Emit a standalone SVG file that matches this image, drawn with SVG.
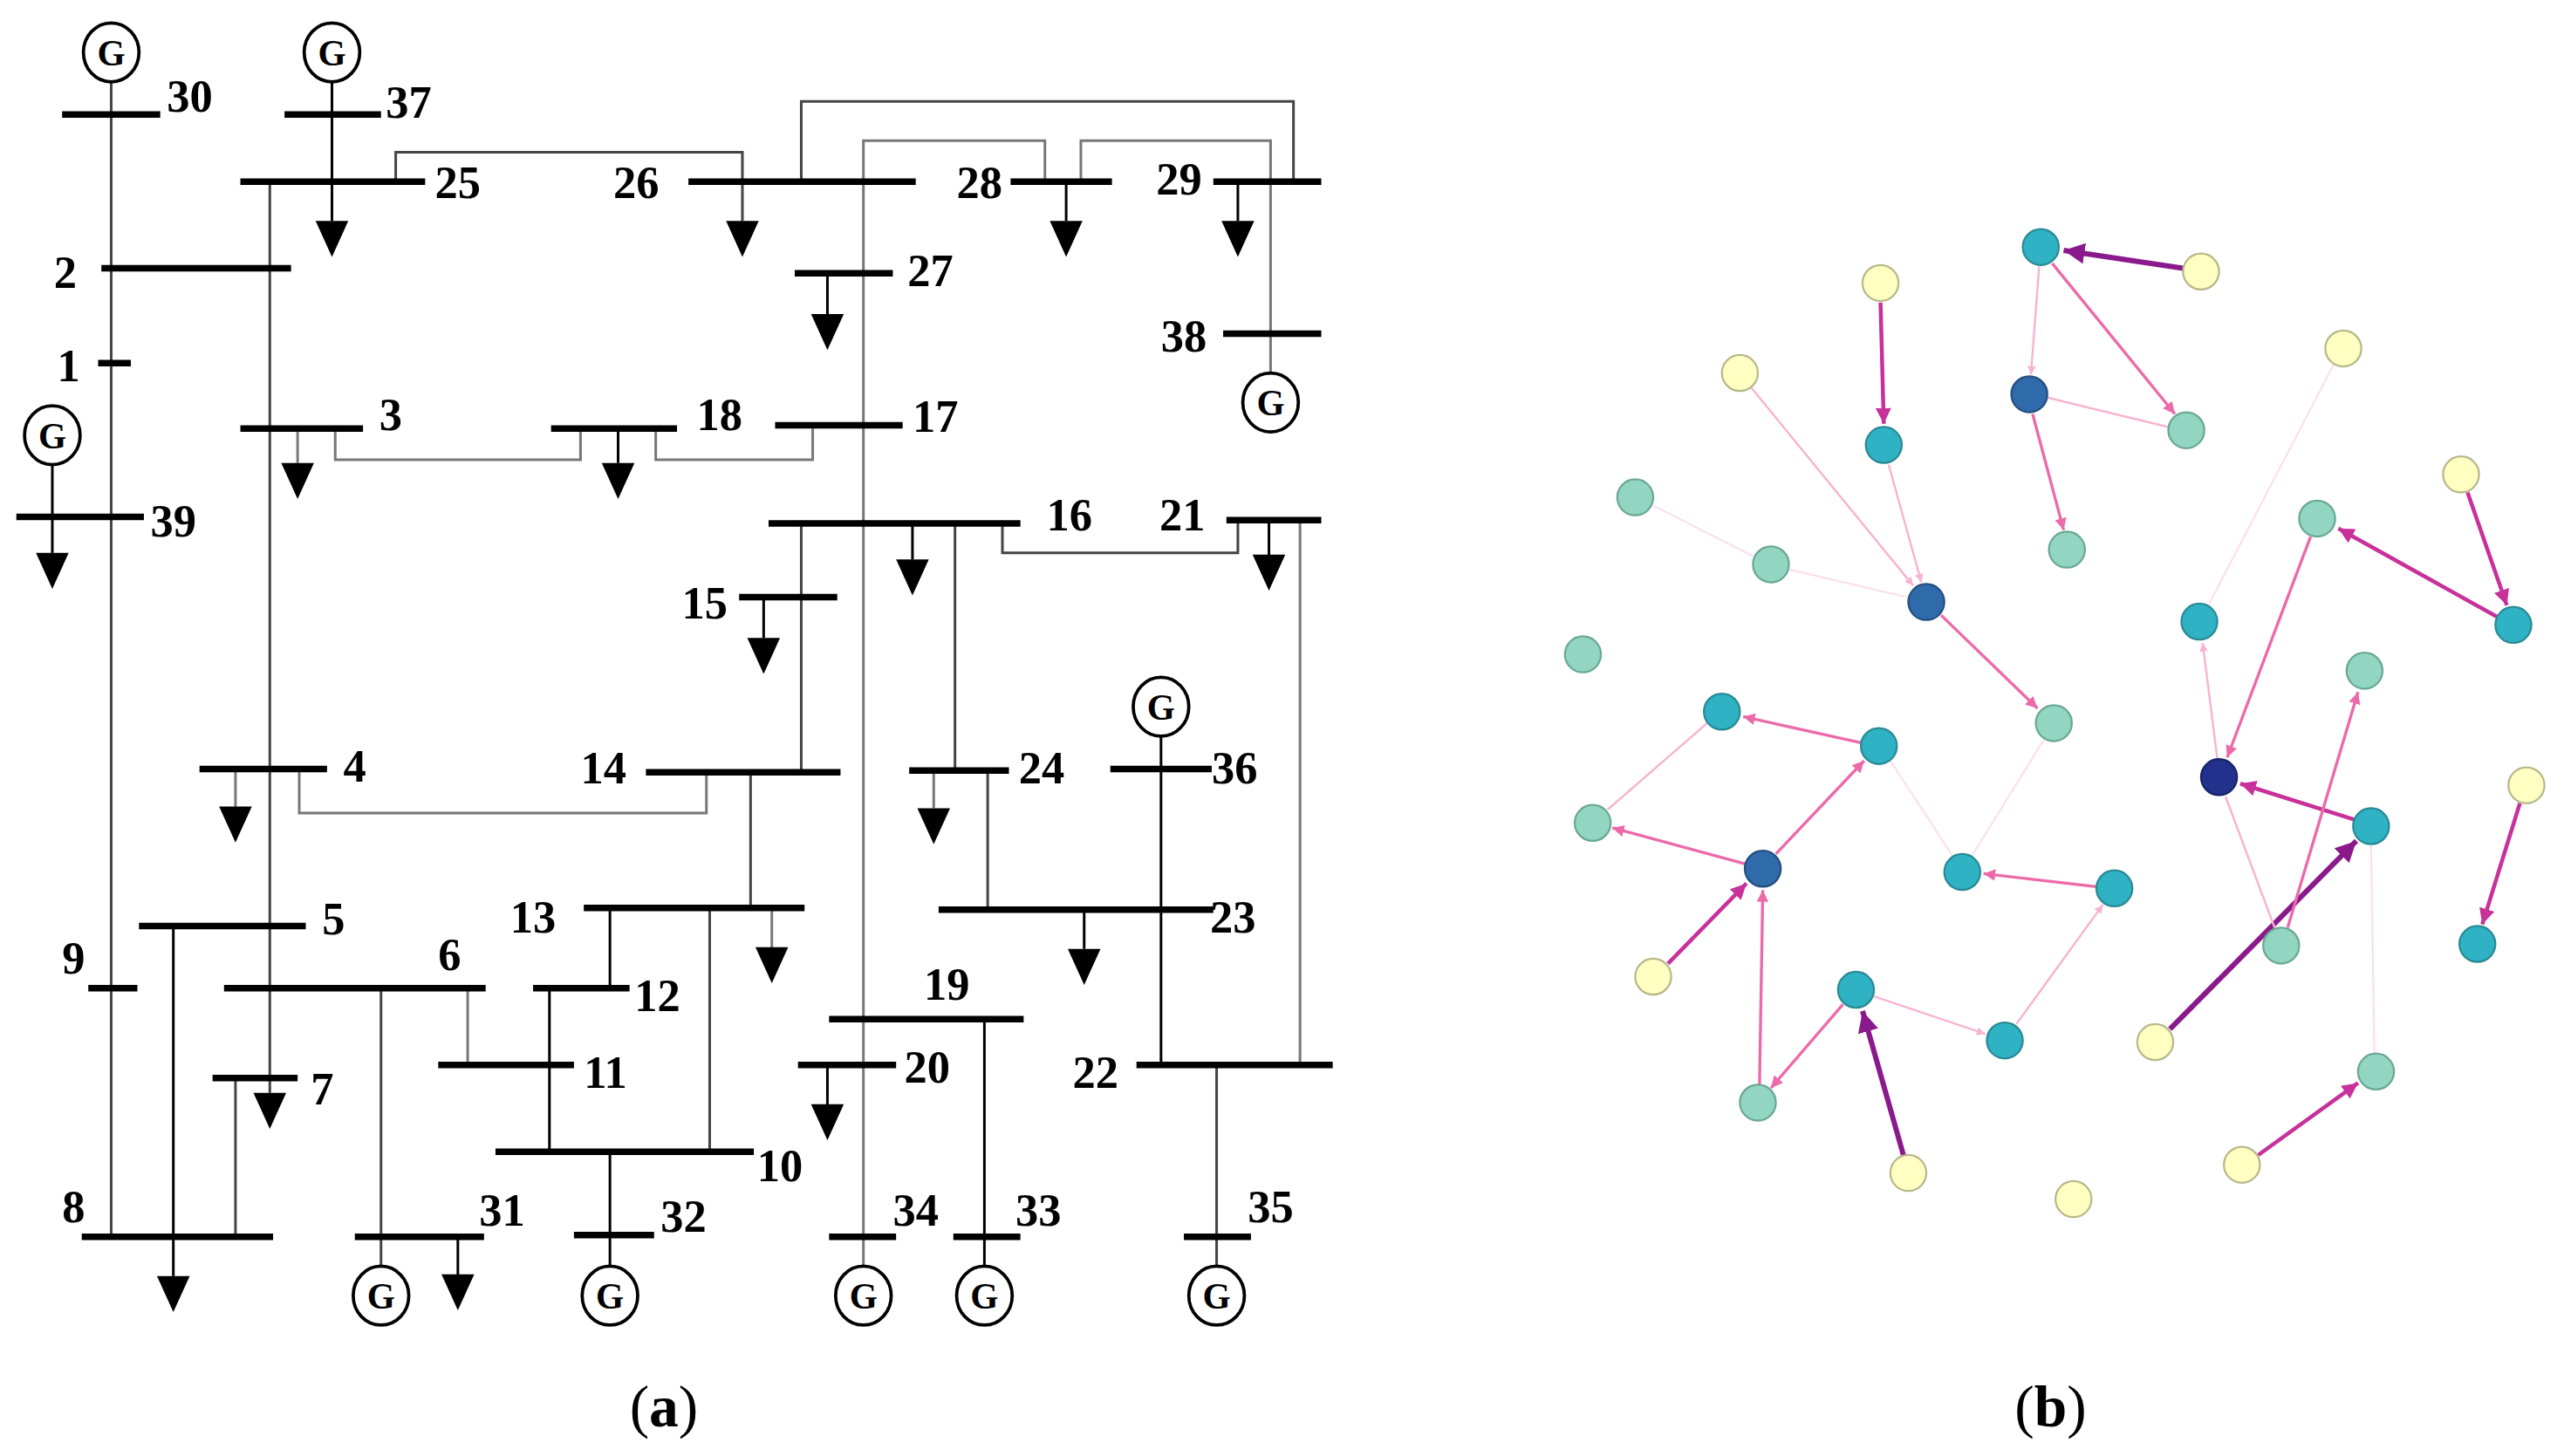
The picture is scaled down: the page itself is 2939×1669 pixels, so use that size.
<svg xmlns="http://www.w3.org/2000/svg" xmlns:xlink="http://www.w3.org/1999/xlink" width="2939" height="1669" viewBox="0 0 2939 1669">
<style>
.bus{stroke:#000;stroke-width:4;fill:none}
.ln{stroke:#444;stroke-width:1.6;fill:none}
.lg{stroke:#777;stroke-width:1.6;fill:none}
.ld{stroke:#000;stroke-width:1.6;fill:none}
.lbl{font-family:"Liberation Serif",serif;font-weight:bold;font-size:28px;fill:#000}
.cap{font-family:"Liberation Serif",serif;font-size:36px;fill:#000}
.gc{fill:#fff;stroke:#000;stroke-width:2}
.gt{font-family:"Liberation Serif",serif;font-weight:bold;font-size:22px;fill:#000;text-anchor:middle}
.ny{fill:#ffffc2;stroke:#b8b88a;stroke-width:1.2}
.nt{fill:#2fb2c4;stroke:#2a8a96;stroke-width:1.2}
.nm{fill:#92d6c2;stroke:#6aa894;stroke-width:1.2}
.nd{fill:#2f6aab;stroke:#244f80;stroke-width:1.2}
.nn{fill:#22318c;stroke:#18236a;stroke-width:1.2}
.e1{stroke:#8a1a8c;stroke-width:3.2;fill:none}
.e2{stroke:#c8309a;stroke-width:2.4;fill:none}
.e3{stroke:#ec6aaa;stroke-width:1.8;fill:none}
.e4{stroke:#f7b4d2;stroke-width:1.3;fill:none}
.e5{stroke:#fbe0ec;stroke-width:1.2;fill:none}
</style>
<defs>
<path id="tri" d="M-10,0 L10,0 L0,22 Z" fill="#000"/>
<g id="gen"><ellipse rx="17" ry="18" class="gc"/><text y="8" class="gt">G</text></g>
<marker id="m1" viewBox="0 0 10 10" refX="10" refY="5" markerWidth="4" markerHeight="4" orient="auto"><path d="M0,0 L10,5 L0,10 Z" fill="#8a1a8c"/></marker>
<marker id="m2" viewBox="0 0 10 10" refX="10" refY="5" markerWidth="4" markerHeight="4" orient="auto"><path d="M0,0 L10,5 L0,10 Z" fill="#c8309a"/></marker>
<marker id="m3" viewBox="0 0 10 10" refX="10" refY="5" markerWidth="4" markerHeight="4" orient="auto"><path d="M0,0 L10,5 L0,10 Z" fill="#ec6aaa"/></marker>
<marker id="m4" viewBox="0 0 10 10" refX="10" refY="5" markerWidth="4" markerHeight="4" orient="auto"><path d="M0,0 L10,5 L0,10 Z" fill="#f7b4d2"/></marker>
</defs>
<rect width="2939" height="1669" fill="#fff"/>
<g transform="scale(1.8744,1.8753)">
<g id="connectors-a">
<path class="ln" d="M68,50 V756"/>
<path class="ln" d="M165,111 V668"/>
<path class="ld" d="M203,50 V135"/>
<path class="ln" d="M242,111 V93 H454 V135"/>
<path class="ln" d="M490,111 V62 H791 V111"/>
<path class="lg" d="M528,774 V86 H639 V111"/>
<path class="lg" d="M661,111 V86 H777 V228"/>
<path class="ld" d="M652,111 V135"/>
<path class="ld" d="M757,111 V135"/>
<path class="ld" d="M506,167 V193"/>
<path class="ld" d="M32,284 V338"/>
<path class="lg" d="M182,262 V283"/>
<path class="lg" d="M205,262 V281 H355 V262"/>
<path class="ld" d="M378,262 V283"/>
<path class="lg" d="M401,262 V281 H497 V262"/>
<path class="ln" d="M490,320 V472"/>
<path class="ld" d="M558,320 V342"/>
<path class="ln" d="M584,320 V471"/>
<path class="ln" d="M613,320 V338 H757 V318"/>
<path class="ld" d="M776,318 V340"/>
<path class="lg" d="M795,318 V651"/>
<path class="ld" d="M467,365 V390"/>
<path class="lg" d="M432,472 V497 H183 V470"/>
<path class="lg" d="M144,470 V494"/>
<path class="ln" d="M459,472 V555"/>
<path class="lg" d="M571,471 V494"/>
<path class="ln" d="M604,471 V556"/>
<path class="ld" d="M710,450 V651"/>
<path class="ld" d="M663,556 V580"/>
<path class="lg" d="M472,555 V580"/>
<path class="ld" d="M373,555 V604"/>
<path class="ln" d="M434,555 V704"/>
<path class="ld" d="M106,566 V780"/>
<path class="ln" d="M233,604 V774"/>
<path class="lg" d="M286,604 V651"/>
<path class="ld" d="M336,604 V704"/>
<path class="ln" d="M144,659 V756"/>
<path class="ld" d="M373,704 V774"/>
<path class="ld" d="M602,623 V774"/>
<path class="ld" d="M506,651 V676"/>
<path class="ln" d="M744,651 V774"/>
<path class="ld" d="M280,756 V780"/>
<use href="#tri" x="203" y="135"/><use href="#tri" x="454" y="135"/><use href="#tri" x="652" y="135"/><use href="#tri" x="757" y="135"/>
<use href="#tri" x="506" y="192"/><use href="#tri" x="32" y="338"/><use href="#tri" x="182" y="283"/><use href="#tri" x="378" y="283"/>
<use href="#tri" x="558" y="342"/><use href="#tri" x="776" y="339"/><use href="#tri" x="467" y="390"/><use href="#tri" x="144" y="493"/>
<use href="#tri" x="571" y="494"/><use href="#tri" x="663" y="580"/><use href="#tri" x="472" y="579"/><use href="#tri" x="165" y="668"/>
<use href="#tri" x="106" y="780"/><use href="#tri" x="506" y="675"/><use href="#tri" x="280" y="779"/>
</g>
<g id="bus30"><path class="bus" d="M38,70 H98"/><use href="#gen" x="68" y="32"/><text class="lbl" x="102" y="68">30</text></g>
<g id="bus37"><path class="bus" d="M174,70 H233"/><use href="#gen" x="203" y="32"/><text class="lbl" x="236" y="72">37</text></g>
<g id="bus25"><path class="bus" d="M147,111 H260"/><text class="lbl" x="266" y="121">25</text></g>
<g id="bus26"><path class="bus" d="M421,111 H560"/><text class="lbl" x="375" y="121">26</text></g>
<g id="bus28"><path class="bus" d="M618,111 H680"/><text class="lbl" x="585" y="121">28</text></g>
<g id="bus29"><path class="bus" d="M742,111 H808"/><text class="lbl" x="707" y="119">29</text></g>
<g id="bus38"><path class="bus" d="M748,204 H808"/><use href="#gen" x="777" y="246"/><text class="lbl" x="710" y="215">38</text></g>
<g id="bus2"><path class="bus" d="M62,164 H178"/><text class="lbl" x="33" y="176">2</text></g>
<g id="bus27"><path class="bus" d="M486,167 H546"/><text class="lbl" x="555" y="175">27</text></g>
<g id="bus1"><path class="bus" d="M60,222 H80"/><text class="lbl" x="35" y="233">1</text></g>
<g id="bus39"><path class="bus" d="M10,316 H88"/><use href="#gen" x="32" y="266"/><text class="lbl" x="92" y="328">39</text></g>
<g id="bus3"><path class="bus" d="M147,262 H222"/><text class="lbl" x="232" y="263">3</text></g>
<g id="bus18"><path class="bus" d="M337,262 H414"/><text class="lbl" x="426" y="263">18</text></g>
<g id="bus17"><path class="bus" d="M474,260 H552"/><text class="lbl" x="558" y="264">17</text></g>
<g id="bus16"><path class="bus" d="M470,320 H624"/><text class="lbl" x="640" y="324">16</text></g>
<g id="bus21"><path class="bus" d="M750,318 H808"/><text class="lbl" x="709" y="324">21</text></g>
<g id="bus15"><path class="bus" d="M452,365 H512"/><text class="lbl" x="417" y="378">15</text></g>
<g id="bus14"><path class="bus" d="M395,472 H514"/><text class="lbl" x="355" y="479">14</text></g>
<g id="bus4"><path class="bus" d="M122,470 H200"/><text class="lbl" x="210" y="478">4</text></g>
<g id="bus24"><path class="bus" d="M556,471 H617"/><text class="lbl" x="623" y="479">24</text></g>
<g id="bus36"><path class="bus" d="M679,470 H741"/><use href="#gen" x="710" y="432"/><text class="lbl" x="741" y="479">36</text></g>
<g id="bus23"><path class="bus" d="M574,556 H742"/><text class="lbl" x="740" y="570">23</text></g>
<g id="bus13"><path class="bus" d="M357,555 H492"/><text class="lbl" x="312" y="570">13</text></g>
<g id="bus5"><path class="bus" d="M85,566 H187"/><text class="lbl" x="197" y="571">5</text></g>
<g id="bus9"><path class="bus" d="M54,604 H84"/><text class="lbl" x="38" y="595">9</text></g>
<g id="bus6"><path class="bus" d="M137,604 H297"/><text class="lbl" x="268" y="593">6</text></g>
<g id="bus12"><path class="bus" d="M326,604 H385"/><text class="lbl" x="388" y="618">12</text></g>
<g id="bus11"><path class="bus" d="M268,651 H351"/><text class="lbl" x="357" y="665">11</text></g>
<g id="bus7"><path class="bus" d="M130,659 H182"/><text class="lbl" x="190" y="675">7</text></g>
<g id="bus10"><path class="bus" d="M303,704 H461"/><text class="lbl" x="463" y="722">10</text></g>
<g id="bus19"><path class="bus" d="M507,623 H626"/><text class="lbl" x="565" y="611">19</text></g>
<g id="bus20"><path class="bus" d="M488,651 H548"/><text class="lbl" x="553" y="662">20</text></g>
<g id="bus22"><path class="bus" d="M695,651 H815"/><text class="lbl" x="656" y="665">22</text></g>
<g id="bus8"><path class="bus" d="M50,756 H167"/><text class="lbl" x="38" y="747">8</text></g>
<g id="bus31"><path class="bus" d="M217,756 H296"/><use href="#gen" x="233" y="792"/><text class="lbl" x="293" y="749">31</text></g>
<g id="bus32"><path class="bus" d="M351,755 H400"/><use href="#gen" x="373" y="792"/><text class="lbl" x="404" y="753">32</text></g>
<g id="bus34"><path class="bus" d="M507,756 H548"/><use href="#gen" x="528" y="792"/><text class="lbl" x="546" y="749">34</text></g>
<g id="bus33"><path class="bus" d="M583,756 H624"/><use href="#gen" x="602" y="792"/><text class="lbl" x="621" y="749">33</text></g>
<g id="bus35"><path class="bus" d="M724,756 H765"/><use href="#gen" x="744" y="792"/><text class="lbl" x="763" y="747">35</text></g>
<text class="cap" x="385" y="872">(<tspan font-weight="bold">a</tspan>)</text>
<text class="cap" x="1232" y="872">(<tspan font-weight="bold">b</tspan>)</text>
<g id="connectors-b">
<line class="e1" x1="1335" y1="164" x2="1262" y2="153" marker-end="url(#m1)"/>
<line class="e4" x1="1247" y1="163" x2="1242" y2="229" marker-end="url(#m4)"/>
<line class="e3" x1="1255" y1="161" x2="1330" y2="253" marker-end="url(#m3)"/>
<line class="e4" x1="1252" y1="243" x2="1326" y2="261"/>
<line class="e3" x1="1243" y1="253" x2="1262" y2="324" marker-end="url(#m3)"/>
<line class="e2" x1="1150" y1="185" x2="1152" y2="259" marker-end="url(#m2)"/>
<line class="e4" x1="1071" y1="237" x2="1170" y2="358" marker-end="url(#m4)"/>
<line class="e4" x1="1155" y1="284" x2="1175" y2="356" marker-end="url(#m4)"/>
<line class="e5" x1="1011" y1="309" x2="1072" y2="340"/>
<line class="e5" x1="1094" y1="348" x2="1166" y2="365"/>
<line class="e3" x1="1187" y1="376" x2="1246" y2="433" marker-end="url(#m3)"/>
<line class="e5" x1="1250" y1="452" x2="1206" y2="523"/>
<line class="e5" x1="1156" y1="465" x2="1194" y2="523"/>
<line class="e3" x1="1138" y1="454" x2="1066" y2="438" marker-end="url(#m3)"/>
<line class="e4" x1="1044" y1="442" x2="983" y2="495"/>
<line class="e3" x1="1067" y1="528" x2="986" y2="506" marker-end="url(#m3)"/>
<line class="e3" x1="1086" y1="522" x2="1140" y2="465" marker-end="url(#m3)"/>
<line class="e2" x1="1020" y1="589" x2="1068" y2="540" marker-end="url(#m2)"/>
<line class="e3" x1="1076" y1="663" x2="1078" y2="544" marker-end="url(#m3)"/>
<line class="e3" x1="1127" y1="614" x2="1083" y2="665" marker-end="url(#m3)"/>
<line class="e1" x1="1164" y1="706" x2="1139" y2="618" marker-end="url(#m1)"/>
<line class="e4" x1="1146" y1="609" x2="1214" y2="632" marker-end="url(#m4)"/>
<line class="e4" x1="1233" y1="626" x2="1286" y2="553" marker-end="url(#m4)"/>
<line class="e3" x1="1282" y1="542" x2="1213" y2="534" marker-end="url(#m3)"/>
<line class="e5" x1="1427" y1="223" x2="1351" y2="369"/>
<line class="e4" x1="1356" y1="464" x2="1347" y2="393" marker-end="url(#m4)"/>
<line class="e3" x1="1413" y1="328" x2="1362" y2="463" marker-end="url(#m3)"/>
<line class="e2" x1="1527" y1="377" x2="1430" y2="323" marker-end="url(#m2)"/>
<line class="e2" x1="1509" y1="301" x2="1533" y2="370" marker-end="url(#m2)"/>
<line class="e2" x1="1440" y1="501" x2="1370" y2="479" marker-end="url(#m2)"/>
<line class="e1" x1="1327" y1="629" x2="1441" y2="514" marker-end="url(#m1)"/>
<line class="e4" x1="1391" y1="567" x2="1361" y2="487"/>
<line class="e3" x1="1399" y1="567" x2="1442" y2="423" marker-end="url(#m3)"/>
<line class="e2" x1="1541" y1="491" x2="1518" y2="565" marker-end="url(#m2)"/>
<line class="e5" x1="1452" y1="644" x2="1450" y2="517"/>
<line class="e2" x1="1381" y1="706" x2="1442" y2="662" marker-end="url(#m2)"/>
</g>
<g id="b-nodes">
<circle id="y1" class="ny" cx="1346" cy="166" r="11"/><circle id="y2" class="ny" cx="1150" cy="173" r="11"/>
<circle id="y3" class="ny" cx="1064" cy="228" r="11"/><circle id="y4" class="ny" cx="1433" cy="213" r="11"/>
<circle id="y5" class="ny" cx="1505" cy="290" r="11"/><circle id="y6" class="ny" cx="1545" cy="480" r="11"/>
<circle id="y7" class="ny" cx="1011" cy="597" r="11"/><circle id="y8" class="ny" cx="1318" cy="637" r="11"/>
<circle id="y9" class="ny" cx="1167" cy="717" r="11"/><circle id="y10" class="ny" cx="1268" cy="733" r="11"/>
<circle id="y11" class="ny" cx="1371" cy="712" r="11"/>
<circle id="t1" class="nt" cx="1248" cy="151" r="11"/><circle id="t2" class="nt" cx="1152" cy="272" r="11"/>
<circle id="t3" class="nt" cx="1345" cy="380" r="11"/><circle id="t4" class="nt" cx="1537" cy="382" r="11"/>
<circle id="t5" class="nt" cx="1053" cy="435" r="11"/><circle id="t6" class="nt" cx="1149" cy="456" r="11"/>
<circle id="t7" class="nt" cx="1450" cy="505" r="11"/><circle id="t8" class="nt" cx="1200" cy="533" r="11"/>
<circle id="t9" class="nt" cx="1293" cy="543" r="11"/><circle id="t10" class="nt" cx="1135" cy="605" r="11"/>
<circle id="t11" class="nt" cx="1226" cy="636" r="11"/><circle id="t12" class="nt" cx="1515" cy="577" r="11"/>
<circle id="m_1" class="nm" cx="1337" cy="263" r="11"/><circle id="m_2" class="nm" cx="1264" cy="336" r="11"/>
<circle id="m_3" class="nm" cx="1000" cy="304" r="11"/><circle id="m_4" class="nm" cx="1083" cy="345" r="11"/>
<circle id="m_5" class="nm" cx="968" cy="400" r="11"/><circle id="m_6" class="nm" cx="1417" cy="317" r="11"/>
<circle id="m_7" class="nm" cx="1446" cy="410" r="11"/><circle id="m_8" class="nm" cx="1256" cy="442" r="11"/>
<circle id="m_9" class="nm" cx="974" cy="503" r="11"/><circle id="m_10" class="nm" cx="1395" cy="578" r="11"/>
<circle id="m_11" class="nm" cx="1075" cy="674" r="11"/><circle id="m_12" class="nm" cx="1453" cy="655" r="11"/>
<circle id="d1" class="nd" cx="1241" cy="241" r="11"/><circle id="d2" class="nd" cx="1178" cy="368" r="11"/>
<circle id="d3" class="nd" cx="1078" cy="531" r="11"/><circle id="n1" class="nn" cx="1357" cy="475" r="11"/>
</g>
</g>
</svg>
